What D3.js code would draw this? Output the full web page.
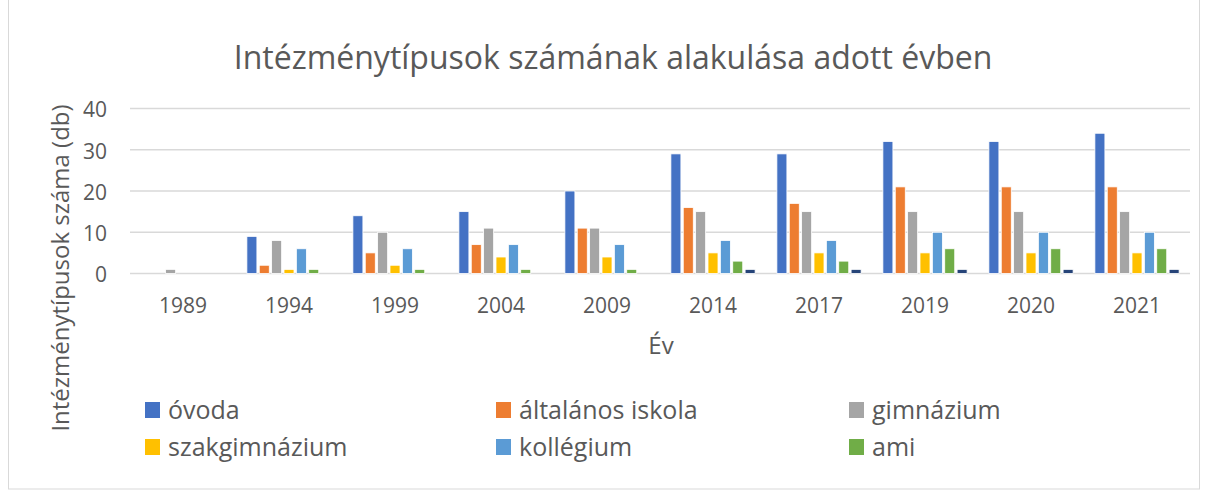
<!DOCTYPE html>
<html><head><meta charset="utf-8">
<script src="https://cdn.jsdelivr.net/npm/d3@7"></script>
<style>body{margin:0;background:#fff;} text{font-family:"Open Sans","Liberation Sans",sans-serif;}</style>
</head><body><svg id="c" width="1208" height="499"></svg>
<script>
const years = ["1989","1994","1999","2004","2009","2014","2017","2019","2020","2021"];
const seriesNames = ["óvoda","általános iskola","gimnázium","szakgimnázium","kollégium","ami","egyéb"];
const ovoda        = [0, 9,14,15,20,29,29,32,32,34];
const altalanos    = [0, 2, 5, 7,11,16,17,21,21,21];
const gimnazium    = [1, 8,10,11,11,15,15,15,15,15];
const szakgimn     = [0, 1, 2, 4, 4, 5, 5, 5, 5, 5];
const kollegium    = [0, 6, 6, 7, 7, 8, 8,10,10,10];
const ami          = [0, 1, 1, 1, 1, 3, 3, 6, 6, 6];
const egyeb        = [0, 0, 0, 0, 0, 1, 1, 1, 1, 1];
const yTicks = [0,10,20,30,40];
const colors = ["#4472c4","#ed7d31","#a5a5a5","#ffc000","#5b9bd5","#70ad47","#264478"];
const legendCount = 6;

const seriesValues = [ovoda,altalanos,gimnazium,szakgimn,kollegium,ami,egyeb];
const svg = d3.select("#c");
const txt = "#595959";

svg.append("rect").attr("x",8.5).attr("y",-1).attr("width",1191).attr("height",490)
  .attr("fill","none").attr("stroke","#d9d9d9").attr("stroke-width",1);

const x0 = d3.scaleBand().domain(years).range([130,1190]).paddingInner(0).paddingOuter(0);
const inner = d3.scaleBand().domain(d3.range(seriesNames.length)).range([0,x0.bandwidth()]).paddingOuter(0.88).paddingInner(0.19);
const y = d3.scaleLinear().domain([0,40]).range([273.5,108.5]);

// gridlines
svg.append("g").selectAll("line").data(yTicks).join("line")
  .attr("x1",130).attr("x2",1190).attr("y1",d=>y(d)).attr("y2",d=>y(d))
  .attr("stroke","#d9d9d9").attr("stroke-width",1.5);

// y axis labels
const yAxis = d3.axisLeft(y).tickValues(yTicks).tickSize(0).tickPadding(0);
const yg = svg.append("g").attr("transform","translate(107,0)").call(yAxis);
yg.select(".domain").remove();
yg.selectAll("text").attr("fill",txt).style("font-size","21px").attr("dy","0.4em");

// bars
const groups = svg.append("g").selectAll("g").data(years).join("g")
  .attr("transform",d=>`translate(${x0(d)},0)`);
groups.selectAll("rect").data((d,i)=>seriesValues.map((s,k)=>({k,v:s[i]}))).join("rect")
  .filter(d=>d.v>0)
  .attr("x",d=>inner(d.k)).attr("width",inner.bandwidth())
  .attr("y",d=>y(d.v)).attr("height",d=>y(0)-y(d.v))
  .attr("fill",d=>colors[d.k]).attr("stroke","#fff").attr("stroke-width",0.8);

// x axis labels
const xAxis = d3.axisBottom(x0).tickSize(0).tickPadding(0);
const xg = svg.append("g").attr("transform","translate(0,298)").call(xAxis);
xg.select(".domain").remove();
xg.selectAll("text").attr("fill",txt).style("font-size","21px").attr("dy","0.71em");

// titles
svg.append("text").attr("x",613).attr("y",69).attr("text-anchor","middle")
  .attr("fill",txt).style("font-size","32px").text("Intézménytípusok számának alakulása adott évben");
svg.append("text").attr("x",661).attr("y",354).attr("text-anchor","middle")
  .attr("fill",txt).style("font-size","24px").text("Év");
svg.append("text").attr("transform","translate(69,268) rotate(-90)").attr("text-anchor","middle")
  .attr("fill",txt).style("font-size","24px").text("Intézménytípusok száma (db)");

// legend
const legX = [145,496,849], legY = [410,447];
const leg = svg.append("g").selectAll("g").data(seriesNames.slice(0,legendCount)).join("g")
  .attr("transform",(d,i)=>`translate(${legX[i%3]},${legY[Math.floor(i/3)]})`);
leg.append("rect").attr("x",0).attr("y",-8).attr("width",15).attr("height",16).attr("fill",(d,i)=>colors[i]);
leg.append("text").attr("x",23).attr("y",0).attr("dy","0.35em").attr("fill",txt)
  .style("font-size","25px").text(d=>d);
</script></body></html>
